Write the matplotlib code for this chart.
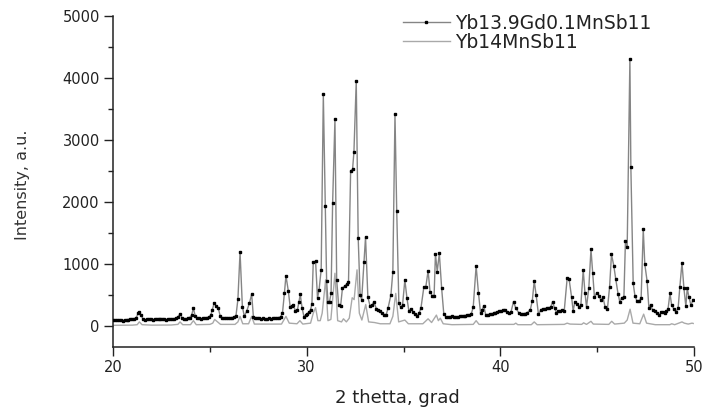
#!/usr/bin/env python3
# -*- coding: utf-8 -*-

import matplotlib
matplotlib.use('Agg')
import matplotlib.pyplot as plt
from matplotlib.ticker import MultipleLocator

#--------------------------------------------------------------------
#                      data
#--------------------------------------------------------------------

# Yb13.9Gd0.1MnSb11  (2 theta, intensity)
gd_theta = [
    20.0, 20.1, 20.2, 20.3, 20.4, 20.5, 20.6, 20.7, 20.8, 20.9,
    21.0, 21.1, 21.2, 21.3, 21.36, 21.45, 21.55, 21.65, 21.75, 21.85,
    21.95, 22.05, 22.15, 22.25, 22.35, 22.45, 22.55, 22.65, 22.75, 22.85,
    22.95, 23.05, 23.15, 23.25, 23.35, 23.46, 23.56, 23.66, 23.76, 23.86,
    23.96, 24.06, 24.15, 24.25, 24.35, 24.45, 24.55, 24.65, 24.75, 24.85,
    24.95, 25.05, 25.13, 25.23, 25.33, 25.43, 25.53, 25.63, 25.73, 25.83,
    25.93, 26.03, 26.13, 26.23, 26.35, 26.45, 26.56, 26.68, 26.78, 26.9,
    27.04, 27.16, 27.25, 27.35, 27.45, 27.55, 27.65, 27.75, 27.85, 27.95,
    28.05, 28.15, 28.25, 28.35, 28.45, 28.55, 28.65, 28.75, 28.85, 28.93,
    29.05, 29.15, 29.25, 29.32, 29.42, 29.52, 29.6, 29.67, 29.76, 29.86,
    29.95, 30.03, 30.12, 30.2, 30.27, 30.34, 30.46, 30.56, 30.64, 30.75,
    30.86, 30.96, 31.03, 31.1, 31.18, 31.26, 31.34, 31.46, 31.55, 31.65,
    31.75, 31.85, 31.97, 32.07, 32.16, 32.27, 32.37, 32.44, 32.56, 32.66,
    32.76, 32.84, 32.96, 33.04, 33.16, 33.28, 33.38, 33.47, 33.6, 33.7,
    33.8, 33.9, 34.0, 34.1, 34.2, 34.35, 34.45, 34.56, 34.65, 34.76,
    34.85, 34.95, 35.07, 35.18, 35.28, 35.4, 35.5, 35.6, 35.7, 35.8,
    35.9, 36.05, 36.15, 36.27, 36.37, 36.48, 36.58, 36.65, 36.74, 36.85,
    36.97, 37.08, 37.2, 37.3, 37.4, 37.5, 37.6, 37.7, 37.8, 37.9,
    38.0, 38.1, 38.2, 38.3, 38.4, 38.5, 38.6, 38.75, 38.87, 38.98,
    39.06, 39.14, 39.25, 39.35, 39.45, 39.55, 39.65, 39.75, 39.85, 39.95,
    40.05, 40.15, 40.22, 40.35, 40.45, 40.55, 40.68, 40.8, 40.95, 41.05,
    41.15, 41.25, 41.4, 41.55, 41.65, 41.75, 41.85, 41.97, 42.1, 42.2,
    42.3, 42.4, 42.5, 42.6, 42.7, 42.8, 42.9, 43.0, 43.1, 43.2,
    43.3, 43.45, 43.55, 43.68, 43.76, 43.85, 43.97, 44.07, 44.16, 44.28,
    44.37, 44.45, 44.57, 44.68, 44.77, 44.86, 44.98, 45.1, 45.19, 45.3,
    45.41, 45.53, 45.64, 45.74, 45.86, 45.96, 46.08, 46.17, 46.26, 46.38,
    46.46, 46.55, 46.69, 46.74, 46.86, 46.95, 47.05, 47.16, 47.27, 47.38,
    47.46, 47.58, 47.67, 47.76, 47.86, 47.98, 48.1, 48.2, 48.32, 48.4,
    48.49, 48.58, 48.66, 48.76, 48.84, 48.96, 49.06, 49.18, 49.27, 49.38,
    49.48, 49.58, 49.65, 49.74, 49.84, 49.96,
]
gd_counts = [
    92, 95, 88, 90, 85, 82, 90, 95, 92, 100,
    105, 110, 130, 200, 225, 170, 105, 95, 100, 110,
    100, 95, 105, 110, 100, 105, 112, 100, 98, 110,
    105, 100, 110, 120, 140, 190, 130, 105, 110, 115,
    130, 170, 280, 150, 115, 120, 110, 125, 120, 130,
    135, 170, 260, 370, 310, 290, 160, 130, 125, 130,
    120, 125, 130, 135, 160, 425, 1190, 306, 150, 230,
    360, 505, 140, 120, 115, 120, 110, 115, 105, 110,
    115, 110, 120, 115, 125, 130, 140, 200, 520, 806,
    565, 300, 320, 340, 230, 250, 380, 505, 290, 145,
    170, 190, 220, 260, 345, 1020, 1043, 442, 576, 905,
    3730, 1936, 721, 387, 387, 522, 1974, 3329, 737, 334,
    310, 610, 640, 670, 700, 2495, 2522, 2797, 3947, 1420,
    495, 420, 1030, 1430, 458, 310, 330, 387, 270, 250,
    235, 200, 175, 170, 280, 495, 870, 3410, 1855, 360,
    300, 330, 737, 440, 230, 270, 220, 190, 160, 200,
    280, 620, 620, 885, 550, 480, 480, 1160, 870, 1167,
    600, 190, 135, 140, 145, 150, 140, 145, 140, 150,
    155, 160, 150, 165, 170, 190, 297, 963, 530, 200,
    250, 320, 170, 175, 185, 190, 200, 210, 220, 230,
    235, 250, 260, 220, 205, 220, 387, 280, 210, 190,
    180, 195, 210, 260, 400, 721, 490, 180, 260, 265,
    275, 280, 280, 300, 387, 280, 210, 230, 240, 245,
    240, 763, 750, 458, 240, 380, 350, 300, 340, 898,
    530, 300, 613, 1232, 855, 458, 530, 480, 410, 458,
    300, 270, 620, 1151, 963, 750, 510, 380, 450, 460,
    1366, 1264, 4300, 2554, 683, 480, 400, 395, 440, 1555,
    990, 715, 290, 340, 250, 240, 200, 165, 220, 215,
    210, 230, 270, 522, 340, 270, 220, 280, 630, 1016,
    600, 310, 600, 460, 330, 420,
]

# Yb14MnSb11
yb_theta = [
    20.0, 21.0, 21.25, 21.36, 21.5, 22.0, 23.0, 23.35, 23.46, 23.6,
    24.0, 24.15, 24.3, 25.0, 25.15, 25.25, 25.4, 25.55, 26.3, 26.45,
    26.56, 26.7, 27.0, 27.16, 27.3, 28.7, 28.93, 29.1, 29.5, 29.65,
    29.8, 30.2, 30.34, 30.46, 30.58, 30.7, 30.8, 30.98, 31.1, 31.25,
    31.46, 31.6, 31.8, 31.9, 32.05, 32.2, 32.35, 32.45, 32.6, 32.72,
    32.85, 33.05, 33.2, 33.5, 33.8, 34.3, 34.45, 34.6, 34.75, 35.07,
    35.25, 36.0, 36.27, 36.45, 36.7, 36.8, 36.9, 37.05, 37.5, 38.6,
    38.75, 38.9, 40.7, 40.8, 40.9, 41.6, 41.75, 41.9, 43.3, 43.45,
    43.6, 44.2, 44.3, 44.45, 44.68, 44.8, 45.6, 45.75, 45.9, 46.4,
    46.55, 46.7, 46.85, 47.2, 47.4, 47.55, 48.0, 48.75, 48.85, 49.0,
    49.38, 49.5, 49.7, 49.9, 49.96,
]
yb_counts = [
    5, 8, 15, 60, 15, 8, 10, 20, 60, 15,
    15, 80, 15, 20, 40, 100, 60, 20, 20, 60,
    150, 30, 30, 150, 25, 25, 150, 40, 30, 80,
    25, 40, 200, 290, 80, 80, 200, 740, 80, 100,
    845, 80, 60, 110, 60, 120, 450, 420, 900, 200,
    90, 340, 60, 50, 30, 30, 150, 520, 60, 90,
    30, 30, 110, 50, 170, 80, 120, 30, 15, 20,
    80, 20, 20, 40, 15, 15, 60, 15, 20, 40,
    25, 20, 45, 20, 70, 25, 20, 70, 25, 40,
    90, 265, 40, 30, 185, 40, 15, 15, 30, 15,
    60, 40, 25, 40, 35,
]

series_names = ['Yb13.9Gd0.1MnSb11', 'Yb14MnSb11']

#--------------------------------------------------------------------
#                            plotting
#--------------------------------------------------------------------

def make_plot():
    fig = plt.figure(figsize=(7.02, 4.12), dpi=100)
    ax = fig.add_axes([113/702, 1 - 346.7/412, 581/702, 331/412])

    ax.plot(yb_theta, yb_counts, color='#a9a9a9', lw=1.0,
            label=series_names[1], zorder=2)
    ax.plot(gd_theta, gd_counts, color='#858585', lw=1.0,
            marker='s', ms=2.0, mfc='black', mec='black',
            label=series_names[0], zorder=3)

    ax.set_xlim(20, 50)
    ax.set_ylim(-340, 5000)
    ax.xaxis.set_major_locator(MultipleLocator(10))
    ax.xaxis.set_minor_locator(MultipleLocator(5))
    ax.yaxis.set_major_locator(MultipleLocator(1000))
    ax.yaxis.set_minor_locator(MultipleLocator(500))

    for side in ('top', 'right'):
        ax.spines[side].set_visible(False)
    for side in ('left', 'bottom'):
        ax.spines[side].set_linewidth(1.1)
        ax.spines[side].set_color('#222222')

    ax.tick_params(which='major', length=6.5, width=1.0, color='#222222',
                   labelsize=10.5, labelcolor='#222222', pad=3)
    ax.tick_params(which='minor', length=3.5, width=1.0, color='#222222')

    ax.set_xlabel('2 thetta, grad', fontsize=13, color='#222222')
    ax.set_ylabel('Intensity, a.u.', fontsize=11.5, color='#333333')
    ax.xaxis.set_label_coords(0.49, -0.128)
    ax.yaxis.set_label_coords(-0.143, 0.49)

    # legend: line with a dot for the Gd sample, plain line for the other
    handles, labels = ax.get_legend_handles_labels()
    leg = fig.legend(handles[::-1], labels[::-1], loc='upper left',
                     bbox_to_anchor=(403/702, 1 - 14/412), frameon=False,
                     fontsize=13.5, numpoints=1, handlelength=2.5,
                     handletextpad=0.3, labelspacing=0.0,
                     borderpad=0.0, borderaxespad=0.0)
    for t in leg.get_texts():
        t.set_color('#222222')

    fig.savefig('out.png', dpi=100)


if __name__ == '__main__':
    make_plot()
